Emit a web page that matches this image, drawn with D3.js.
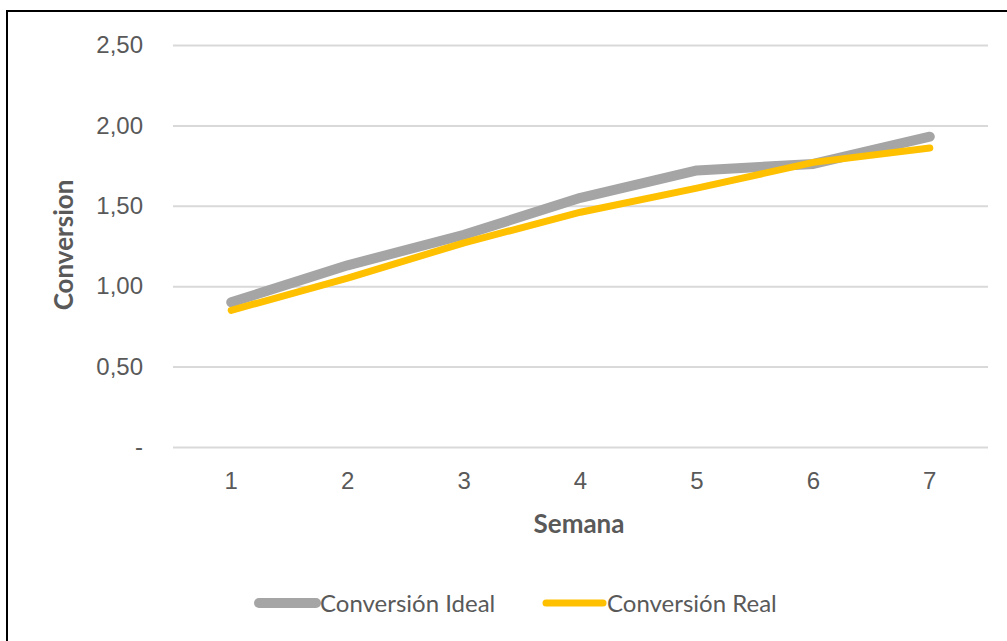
<!DOCTYPE html>
<html>
<head>
<meta charset="utf-8">
<script src="https://cdn.jsdelivr.net/npm/d3@7"></script>
<style>
  body { margin: 0; background: #fff; }
  svg { display: block; font-family: Lato, "Open Sans", sans-serif; }
</style>
</head>
<body>
<div id="chart"></div>
<script>
const width = 1007;
const height = 641;

// data
const semanas = [1, 2, 3, 4, 5, 6, 7];
const ideal = [0.90, 1.13, 1.32, 1.55, 1.72, 1.76, 1.93];
const real = [0.85, 1.05, 1.27, 1.46, 1.61, 1.77, 1.86];
const yTicks = [0, 0.5, 1, 1.5, 2, 2.5];
const seriesNames = ["Conversión Ideal", "Conversión Real"];
const colors = ["#A5A5A5", "#FFC000"];

const margin = { top: 45, left: 173, bottom: 194, right: 19 };

const svg = d3.select("#chart").append("svg").attr("width", width).attr("height", height);

// frame (only left + top edges visible)
svg.append("rect").attr("x", 7).attr("y", 11).attr("width", 1100).attr("height", 700)
    .attr("fill", "none").attr("stroke", "#000").attr("stroke-width", 2);

const xScale = d3.scaleBand()
    .domain(semanas)
    .range([margin.left, width - margin.right]);

const yScale = d3.scaleLinear()
    .domain([0, 2.5])
    .range([height - margin.bottom, margin.top]);

const fmt = d => d === 0 ? "-" : d3.format(".2f")(d).replace(".", ",");

// gridlines
const yAxis = d3.axisLeft(yScale).tickValues(yTicks).tickFormat(fmt)
    .tickSize(-(width - margin.left - margin.right)).tickPadding(30);
svg.append("g")
    .attr("transform", `translate(${margin.left},0)`)
    .call(yAxis)
    .call(g => g.select(".domain").remove())
    .call(g => g.selectAll("line").attr("stroke", "#D9D9D9").attr("stroke-width", 2))
    .call(g => g.selectAll("text").attr("fill", "#595959").attr("font-size", 24));

const xAxis = d3.axisBottom(xScale).tickSize(0).tickPadding(25);
svg.append("g")
    .attr("transform", `translate(0,${yScale(0)})`)
    .call(xAxis)
    .call(g => g.select(".domain").remove())
    .call(g => g.selectAll("text").attr("fill", "#595959").attr("font-size", 24));

// axis titles
svg.append("text").attr("x", 579).attr("y", 533).attr("text-anchor", "middle")
    .attr("font-size", 26).attr("font-weight", 700).attr("fill", "#595959").text("Semana");
svg.append("text").attr("transform", "translate(73,245) rotate(-90)").attr("text-anchor", "middle")
    .attr("font-size", 26).attr("font-weight", 700).attr("fill", "#595959").text("Conversion");

const line = d3.line()
    .x((d, i) => xScale(semanas[i]) + xScale.bandwidth() / 2)
    .y(d => yScale(d));

svg.append("path").datum(ideal).attr("d", line).attr("fill", "none")
    .attr("stroke", colors[0]).attr("stroke-width", 10)
    .attr("stroke-linecap", "round").attr("stroke-linejoin", "round");
svg.append("path").datum(real).attr("d", line).attr("fill", "none")
    .attr("stroke", colors[1]).attr("stroke-width", 7)
    .attr("stroke-linecap", "round").attr("stroke-linejoin", "round");

// legend
const legendItems = [
    { name: seriesNames[0], color: colors[0], w: 10, x: 259 },
    { name: seriesNames[1], color: colors[1], w: 7, x: 546 }
];
legendItems.forEach(d => {
    svg.append("line").attr("x1", d.x).attr("x2", d.x + 57).attr("y1", 603).attr("y2", 603)
        .attr("stroke", d.color).attr("stroke-width", d.w).attr("stroke-linecap", "round");
    svg.append("text").attr("x", d.x + 61).attr("y", 612).attr("font-size", 24)
        .attr("fill", "#595959").text(d.name);
});
</script>
</body>
</html>
